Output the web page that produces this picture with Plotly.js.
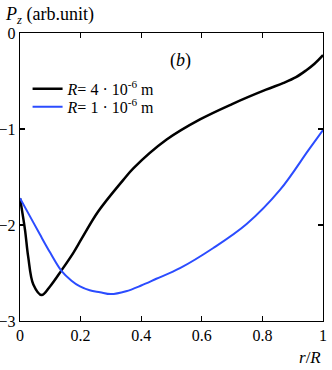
<!DOCTYPE html>
<html>
<head>
<meta charset="utf-8">
<script src="https://cdn.plot.ly/plotly-3.0.1.min.js"></script>
<style>
  body { margin: 0; padding: 0; background: #fff; }
  #myPlot { width: 332px; height: 370px; }
</style>
</head>
<body>
<div id="myPlot"></div>
<script>
// r/R values and P_z
// R = 4e-6 m (black)
var rBig = [0, 0.0165, 0.027, 0.044, 0.0715, 0.099, 0.1375, 0.176, 0.204, 0.258, 0.341, 0.374, 0.484, 0.594, 0.70, 0.812, 0.87, 0.911, 0.944, 0.972, 1.0]
var pBig = [-1.72, -2.05, -2.33, -2.62, -2.73, -2.64, -2.47, -2.29, -2.14, -1.86, -1.53, -1.41, -1.11, -0.90, -0.74, -0.59, -0.52, -0.46, -0.39, -0.32, -0.23]

// R = 1e-6 m (blue)
var rSmall = [0, 0.033, 0.066, 0.1, 0.1375, 0.17, 0.198, 0.23, 0.264, 0.3, 0.35, 0.4, 0.45, 0.528, 0.638, 0.748, 0.858, 0.952, 1.0]
var pSmall = [-1.72, -1.91, -2.10, -2.29, -2.48, -2.58, -2.64, -2.68, -2.70, -2.72, -2.69, -2.63, -2.56, -2.45, -2.24, -1.99, -1.635, -1.22, -1.01]

var legendNames = ["<i>R</i>= 4 · 10<sup>-6</sup> m", "<i>R</i>= 1 · 10<sup>-6</sup> m"]

var serif = "Liberation Serif"

var data = [
  {x: rBig, y: pBig, mode: "lines", name: legendNames[0], legend: "legend",
   line: {color: "#000000", width: 2.5, shape: "spline", smoothing: 1}},
  {x: rSmall, y: pSmall, mode: "lines", name: legendNames[1], legend: "legend2",
   line: {color: "#2b4cff", width: 2, shape: "spline", smoothing: 1}}
]

var axisStyle = {
  showgrid: false, zeroline: false, showline: true, linecolor: "#000", linewidth: 1.2,
  mirror: "ticks", ticks: "inside", ticklen: 5, tickwidth: 1.2, tickcolor: "#000",
  tickfont: {family: serif, size: 16, color: "#000"}
}

var legendStyle = {xanchor: "left", yanchor: "middle", bgcolor: "rgba(0,0,0,0)",
  font: {family: serif, size: 16, color: "#000"}, itemwidth: 30}

var layout = {
  width: 332, height: 370,
  margin: {l: 20, r: 9, t: 33, b: 49},
  paper_bgcolor: "#fff", plot_bgcolor: "#fff",
  font: {family: serif, size: 16, color: "#000"},
  xaxis: Object.assign({}, axisStyle, {range: [0, 1], tickvals: [0, 0.2, 0.4, 0.6, 0.8, 1],
    ticktext: ["0", "0.2", "0.4", "0.6", "0.8", "1"]}),
  yaxis: Object.assign({}, axisStyle, {range: [-3, 0], tickvals: [-3, -2, -1, 0]}),
  showlegend: true,
  legend: Object.assign({}, legendStyle, {x: 0.025, y: 0.806}),
  legend2: Object.assign({}, legendStyle, {x: 0.025, y: 0.744}),
  annotations: [
    {xref: "paper", yref: "paper", x: -0.056, y: 1.0625, xanchor: "left", yanchor: "middle",
     showarrow: false, text: "<i>P<sub>z</sub></i> (arb.unit)", font: {family: serif, size: 18}},
    {xref: "paper", yref: "paper", x: 0.531, y: 0.906, xanchor: "center", yanchor: "middle",
     showarrow: false, text: "(<i>b</i>)", font: {family: serif, size: 18}},
    {xref: "paper", yref: "paper", x: 1, y: -0.125, xanchor: "right", yanchor: "middle",
     showarrow: false, text: "<i>r</i>/<i>R</i>", font: {family: serif, size: 17}}
  ]
}

Plotly.newPlot("myPlot", data, layout, {displayModeBar: false, staticPlot: true})
</script>
</body>
</html>
